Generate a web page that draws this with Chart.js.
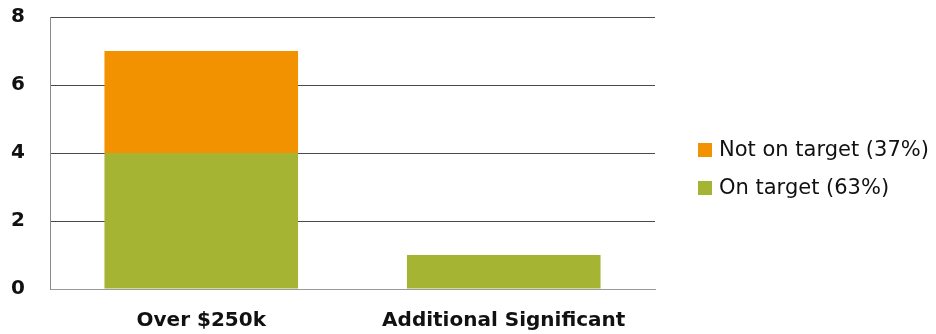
<!DOCTYPE html>
<html>
<head>
<meta charset="utf-8">
<script src="https://cdn.jsdelivr.net/npm/chart.js@4/dist/chart.umd.min.js"></script>
<style>
  body { margin: 0; background: #fff; }
  #wrap { width: 936px; height: 334px; }
</style>
</head>
<body>
<div id="wrap"><canvas id="chart" width="936" height="334"></canvas></div>
<script>
// data
const categories = ["Over $250k", "Additional Significant"];
const onTarget = [4, 1];
const notOnTarget = [3, 0];
const seriesNames = ["On target (63%)", "Not on target (37%)"];
const yTicks = [0, 2, 4, 6, 8];

const ORANGE = "#f29200";
const GREEN = "#a6b434";
const FONT = "'DejaVu Sans'";

// legend drawn by hand so it can sit away from the plot like the original
const sideLegend = {
    id: "sideLegend",
    afterDraw(chart) {
        const ctx = chart.ctx;
        const items = chart.data.datasets.slice().reverse();
        ctx.save();
        ctx.font = "21px " + FONT;
        ctx.textBaseline = "middle";
        ctx.textAlign = "left";
        items.forEach((ds, i) => {
            const y = 150 + i * 38;
            ctx.fillStyle = ds.backgroundColor;
            ctx.fillRect(698, y - 7, 14, 14);
            ctx.fillStyle = "#111";
            ctx.fillText(ds.label, 719, y + 1);
        });
        ctx.restore();
    }
};

new Chart(document.getElementById("chart"), {
    type: "bar",
    data: {
        labels: categories,
        datasets: [
            {
                label: seriesNames[0],
                data: onTarget,
                backgroundColor: GREEN
            },
            {
                label: seriesNames[1],
                data: notOnTarget,
                backgroundColor: ORANGE
            }
        ]
    },
    options: {
        responsive: false,
        animation: false,
        layout: { padding: { top: 0, right: 281, left: 0, bottom: 0 } },
        categoryPercentage: 1,
        barPercentage: 0.64,
        plugins: {
            legend: { display: false },
            tooltip: { enabled: false }
        },
        scales: {
            x: {
                stacked: true,
                grid: { display: false },
                border: { color: "#9a9a9a", width: 1 },
                afterFit(scale) { scale.height = 45; },
                ticks: {
                    color: "#111",
                    padding: 12,
                    font: { family: FONT, size: 20, weight: "bold" }
                }
            },
            y: {
                stacked: true,
                min: 0,
                max: 8,
                afterBuildTicks(axis) {
                    axis.ticks = yTicks.map(v => ({ value: v }));
                },
                afterFit(scale) {
                    scale.width = 50;
                    scale.paddingTop = 17;
                },
                grid: { color: "#4a4a4a", drawTicks: false },
                border: { color: "#8a8a8a", width: 1 },
                ticks: {
                    color: "#111",
                    padding: 25,
                    font: { family: FONT, size: 20, weight: "bold", lineHeight: 1 }
                }
            }
        }
    },
    plugins: [sideLegend]
});
</script>
</body>
</html>
